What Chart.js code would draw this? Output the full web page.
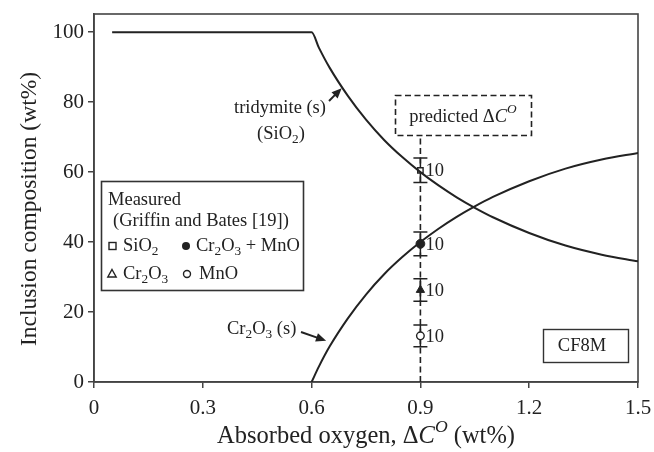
<!DOCTYPE html>
<html>
<head>
<meta charset="utf-8">
<script src="https://cdn.jsdelivr.net/npm/chart.js@4/dist/chart.umd.min.js"></script>
<style>
  html, body { margin: 0; padding: 0; background: #fff; }
  #wrap { width: 654px; height: 452px; position: relative; }
</style>
</head>
<body>
<div id="wrap"><canvas id="c" width="654" height="452"></canvas></div>
<script>
// Equilibrium inclusion composition vs. absorbed oxygen (wt%)
const sio2X  = [0.05, 0.6, 0.62, 0.65, 0.7, 0.75, 0.8, 0.85, 0.9, 0.95, 1.0, 1.05, 1.1, 1.2, 1.3, 1.4, 1.5];
const sio2Y  = [100, 100, 95.6, 89.8, 81.8, 75, 69.2, 64.3, 60, 56.2, 52.8, 49.8, 47.1, 42.6, 39, 36.4, 34.5];
const cr2o3X = [0.6, 0.62, 0.65, 0.7, 0.75, 0.8, 0.85, 0.9, 0.95, 1.0, 1.05, 1.1, 1.2, 1.3, 1.4, 1.5];
const cr2o3Y = [0, 4.4, 10.2, 18.2, 25, 30.8, 35.7, 40, 43.8, 47.2, 50.2, 52.9, 57.4, 61, 63.6, 65.5];

// Measured compositions (Griffin and Bates [19]) with scatter and sample counts
const measuredX   = [0.9, 0.9, 0.9, 0.9];
const measuredY   = [60.5, 39.5, 26.3, 13.2];
const measuredErr = [3.5, 3.4, 3.2, 3.1];
const measuredN   = ['10', '10', '10', '10'];

const predictedDC = 0.9;
const tridymitePoint = [0.683, 84];
const cr2o3Pointer = [0.64, 11.8];

const xTickLabels = ['0', '0.3', '0.6', '0.9', '1.2', '1.5'];
const yTickLabels = ['0', '20', '40', '60', '80', '100'];

const FAM = '"Liberation Serif", "Times New Roman", serif';
const INK = '#222';

function font(size, italic) { return (italic ? 'italic ' : '') + size + 'px ' + FAM; }

// Draw text made of segments with optional subscript / superscript / italic parts
function rich(ctx, segs, x, y, size, align) {
  const parts = segs.map(s => {
    const sz = (s.sub || s.sup) ? size * 0.72 : size;
    ctx.font = font(sz, s.it);
    return { s, sz, w: ctx.measureText(s.t).width };
  });
  const total = parts.reduce((a, p) => a + p.w, 0);
  let cx = align === 'center' ? x - total / 2 : (align === 'right' ? x - total : x);
  ctx.textBaseline = 'middle';
  ctx.textAlign = 'left';
  for (const p of parts) {
    ctx.font = font(p.sz, p.s.it);
    let dy = 0;
    if (p.s.sub) dy = size * 0.3;
    if (p.s.sup) dy = -size * 0.38;
    ctx.fillText(p.s.t, cx, y + dy);
    cx += p.w;
  }
}

function arrow(ctx, x1, y1, x2, y2, head) {
  const a = Math.atan2(y2 - y1, x2 - x1);
  ctx.beginPath();
  ctx.moveTo(x1, y1);
  ctx.lineTo(x2 - Math.cos(a) * head * 0.8, y2 - Math.sin(a) * head * 0.8);
  ctx.stroke();
  ctx.beginPath();
  ctx.moveTo(x2, y2);
  ctx.lineTo(x2 - head * Math.cos(a - 0.4), y2 - head * Math.sin(a - 0.4));
  ctx.lineTo(x2 - head * Math.cos(a + 0.4), y2 - head * Math.sin(a + 0.4));
  ctx.closePath();
  ctx.fill();
}

function marker(ctx, kind, x, y) {
  ctx.save();
  ctx.lineWidth = 1.4;
  ctx.strokeStyle = INK;
  ctx.fillStyle = INK;
  if (kind === 'square') {
    ctx.fillStyle = '#fff';
    ctx.fillRect(x - 3.5, y - 3.5, 7, 7);
    ctx.strokeRect(x - 3.5, y - 3.5, 7, 7);
  } else if (kind === 'dot') {
    ctx.beginPath(); ctx.arc(x, y, 4, 0, Math.PI * 2); ctx.fill();
  } else if (kind === 'triangle') {
    ctx.beginPath();
    ctx.moveTo(x, y - 4.5); ctx.lineTo(x + 4.2, y + 3); ctx.lineTo(x - 4.2, y + 3); ctx.closePath();
    ctx.fillStyle = '#fff'; ctx.fill(); ctx.stroke();
  } else if (kind === 'ring') {
    ctx.beginPath(); ctx.arc(x, y, 3.5, 0, Math.PI * 2);
    ctx.fillStyle = '#fff'; ctx.fill(); ctx.stroke();
  }
  ctx.restore();
}

const decor = {
  id: 'decor',
  beforeDatasetsDraw(chart) {
    const { ctx, chartArea: a, scales: { x, y } } = chart;
    ctx.save();
    // plot frame
    ctx.strokeStyle = '#444';
    ctx.lineWidth = 1.6;
    ctx.strokeRect(a.left, a.top, a.right - a.left, a.bottom - a.top);
    // predicted oxygen level (dashed)
    const px = x.getPixelForValue(predictedDC);
    ctx.setLineDash([6, 3.5]);
    ctx.strokeStyle = INK;
    ctx.lineWidth = 1.6;
    ctx.beginPath(); ctx.moveTo(px, a.bottom); ctx.lineTo(px, 135); ctx.stroke();
    ctx.strokeRect(395.5, 95.5, 136, 40);
    ctx.setLineDash([]);
    // error bars
    ctx.lineWidth = 1.5;
    for (let i = 0; i < measuredX.length; i++) {
      const ex = x.getPixelForValue(measuredX[i]);
      const y1 = y.getPixelForValue(measuredY[i] - measuredErr[i]);
      const y2 = y.getPixelForValue(measuredY[i] + measuredErr[i]);
      ctx.beginPath();
      ctx.moveTo(ex, y1); ctx.lineTo(ex, y2);
      ctx.moveTo(ex - 7, y1); ctx.lineTo(ex + 7, y1);
      ctx.moveTo(ex - 7, y2); ctx.lineTo(ex + 7, y2);
      ctx.stroke();
    }
    ctx.restore();
  },
  afterDatasetsDraw(chart) {
    const { ctx, scales: { x, y } } = chart;
    ctx.save();
    ctx.fillStyle = INK;
    ctx.strokeStyle = INK;

    // sample counts
    for (let i = 0; i < measuredX.length; i++) {
      rich(ctx, [{ t: measuredN[i] }], x.getPixelForValue(measuredX[i]) + 5, y.getPixelForValue(measuredY[i]) + 1, 18.5, 'left');
    }

    // predicted label
    rich(ctx, [{ t: 'predicted \u0394' }, { t: 'C', it: true }, { t: 'O', it: true, sup: true }], 463, 117, 18.5, 'center');

    // phase labels and arrows
    rich(ctx, [{ t: 'tridymite (s)' }], 280, 108, 18.5, 'center');
    rich(ctx, [{ t: '(SiO' }, { t: '2', sub: true }, { t: ')' }], 281, 134, 18.5, 'center');
    ctx.lineWidth = 2;
    arrow(ctx, 329, 101, x.getPixelForValue(tridymitePoint[0]), y.getPixelForValue(tridymitePoint[1]), 11);

    rich(ctx, [{ t: 'Cr' }, { t: '2', sub: true }, { t: 'O' }, { t: '3', sub: true }, { t: ' (s)' }], 227, 329, 18.5, 'left');
    arrow(ctx, 301, 332, x.getPixelForValue(cr2o3Pointer[0]), y.getPixelForValue(cr2o3Pointer[1]), 11);

    // alloy label
    ctx.fillStyle = '#fff';
    ctx.fillRect(543, 330, 85, 33);
    ctx.fillStyle = INK;
    ctx.lineWidth = 1.4;
    ctx.strokeStyle = '#333';
    ctx.strokeRect(543.5, 329.5, 85, 33);
    rich(ctx, [{ t: 'CF8M' }], 582, 346, 18.5, 'center');

    // legend
    ctx.fillStyle = '#fff';
    ctx.fillRect(101, 181, 202, 109);
    ctx.strokeStyle = '#333';
    ctx.lineWidth = 1.6;
    ctx.strokeRect(101.5, 181.5, 202, 109);
    ctx.fillStyle = INK;
    rich(ctx, [{ t: 'Measured' }], 108, 200, 18.5, 'left');
    rich(ctx, [{ t: '(Griffin and Bates [19])' }], 113, 221, 18.5, 'left');
    marker(ctx, 'square', 112.5, 246);
    rich(ctx, [{ t: 'SiO' }, { t: '2', sub: true }], 123, 246, 18.5, 'left');
    marker(ctx, 'dot', 186, 246);
    rich(ctx, [{ t: 'Cr' }, { t: '2', sub: true }, { t: 'O' }, { t: '3', sub: true }, { t: ' + MnO' }], 196, 246, 18.5, 'left');
    marker(ctx, 'triangle', 112, 274);
    rich(ctx, [{ t: 'Cr' }, { t: '2', sub: true }, { t: 'O' }, { t: '3', sub: true }], 123, 274, 18.5, 'left');
    marker(ctx, 'ring', 187, 274);
    rich(ctx, [{ t: 'MnO' }], 199, 274, 18.5, 'left');

    // axis titles
    rich(ctx, [{ t: 'Absorbed oxygen, \u0394' }, { t: 'C', it: true }, { t: 'O', it: true, sup: true }, { t: ' (wt%)' }], 366, 437, 24.5, 'center');
    ctx.save();
    ctx.translate(30, 209);
    ctx.rotate(-Math.PI / 2);
    rich(ctx, [{ t: 'Inclusion composition (wt%)' }], 0, 0, 23.5, 'center');
    ctx.restore();

    ctx.restore();
  }
};

const pts = (xs, ys) => xs.map((v, i) => ({ x: v, y: ys[i] }));

new Chart(document.getElementById('c'), {
  type: 'scatter',
  data: {
    datasets: [
      { type: 'line', data: pts(sio2X, sio2Y), borderColor: INK, borderWidth: 2, pointRadius: 0, cubicInterpolationMode: 'monotone', fill: false, showLine: true },
      { type: 'line', data: pts(cr2o3X, cr2o3Y), borderColor: INK, borderWidth: 2, pointRadius: 0, cubicInterpolationMode: 'monotone', fill: false, showLine: true },
      { data: [{ x: measuredX[0], y: measuredY[0] }], pointStyle: 'rect', pointRadius: 3.8, backgroundColor: '#fff', borderColor: INK, borderWidth: 1.4 },
      { data: [{ x: measuredX[1], y: measuredY[1] }], pointStyle: 'circle', pointRadius: 4.4, backgroundColor: INK, borderColor: INK, borderWidth: 1 },
      { data: [{ x: measuredX[2], y: measuredY[2] }], pointStyle: 'triangle', pointRadius: 4.8, backgroundColor: INK, borderColor: INK, borderWidth: 1 },
      { data: [{ x: measuredX[3], y: measuredY[3] }], pointStyle: 'circle', pointRadius: 3.8, backgroundColor: '#fff', borderColor: INK, borderWidth: 1.4 }
    ]
  },
  options: {
    responsive: false,
    animation: false,
    devicePixelRatio: 1,
    layout: { padding: { top: 14, right: 16, left: 0, bottom: 0 } },
    plugins: { legend: { display: false }, tooltip: { enabled: false } },
    scales: {
      x: {
        type: 'linear', min: 0, max: 1.5,
        afterFit(s) { s.height = 70; s.paddingLeft = 0; s.paddingRight = 0; },
        afterBuildTicks(s) { s.ticks = xTickLabels.map(v => ({ value: +v })); },
        ticks: { callback: (v, i) => xTickLabels[i], font: { family: FAM, size: 21 }, color: INK, padding: 8, maxRotation: 0 },
        grid: { drawOnChartArea: false, drawTicks: true, tickLength: 6, color: '#444', lineWidth: 1.5 },
        border: { color: '#444', width: 1.6 }
      },
      y: {
        type: 'linear', min: 0, max: 105.2,
        afterFit(s) { s.width = 94; s.paddingTop = 0; s.paddingBottom = 0; },
        afterBuildTicks(s) { s.ticks = yTickLabels.map(v => ({ value: +v })); },
        ticks: { callback: (v, i) => yTickLabels[i], font: { family: FAM, size: 21 }, color: INK, padding: 4 },
        grid: { drawOnChartArea: false, drawTicks: true, tickLength: 6, color: '#444', lineWidth: 1.5 },
        border: { color: '#444', width: 1.6 }
      }
    }
  },
  plugins: [decor]
});
</script>
</body>
</html>
